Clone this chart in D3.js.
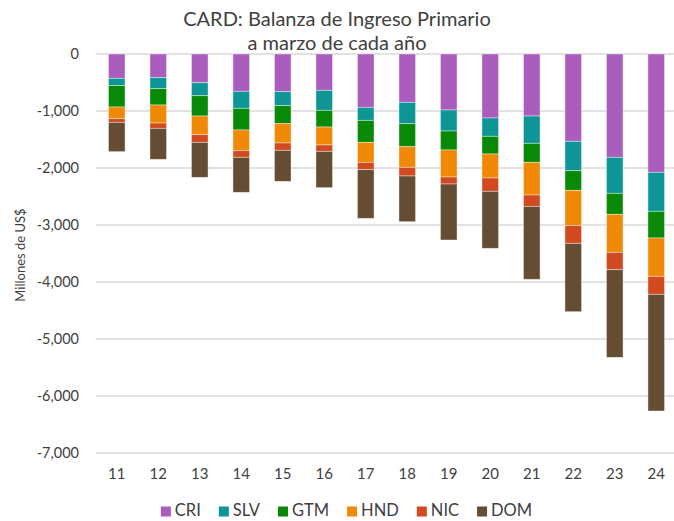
<!DOCTYPE html>
<html>
<head>
<meta charset="utf-8">
<script src="https://cdn.jsdelivr.net/npm/d3@7"></script>
<style>
  body { margin: 0; background: #fff; }
  text { font-family: Lato, "Open Sans", sans-serif; fill: #404040; }
</style>
</head>
<body>
<svg id="chart" width="674" height="521"></svg>
<script>
// anios (marzo de cada anio)
var years = ["11","12","13","14","15","16","17","18","19","20","21","22","23","24"];
var countries = ["CRI","SLV","GTM","HND","NIC","DOM"];
// valores en millones de US$ (negativos)
var CRI = [-427,-415,-503,-655,-661,-637,-936,-848,-982,-1123,-1088,-1532,-1813,-2076];
var SLV = [-128,-193,-228,-298,-245,-351,-228,-374,-369,-321,-479,-515,-631,-684];
var GTM = [-375,-287,-357,-380,-316,-293,-386,-404,-333,-310,-334,-345,-369,-468];
var HND = [-205,-316,-327,-363,-339,-315,-351,-362,-474,-421,-573,-617,-667,-673];
var NIC = [-64,-93,-135,-117,-129,-112,-128,-152,-123,-234,-199,-313,-304,-315];
var DOM = [-514,-544,-614,-614,-544,-637,-854,-802,-982,-1000,-1280,-1199,-1538,-2047];
var yTicks = [0,-1000,-2000,-3000,-4000,-5000,-6000,-7000];
var colors = ["#ab5dbe","#0e9696","#088a08","#f08a06","#d24b20","#654d34"];

var seriesVals = {CRI: CRI, SLV: SLV, GTM: GTM, HND: HND, NIC: NIC, DOM: DOM};
var table = years.map(function(yr, i){
  var row = {year: yr};
  countries.forEach(function(c){ row[c] = seriesVals[c][i]; });
  return row;
});

var svg = d3.select("#chart");
var plotLeft = 96, plotRight = 677, plotTop = 54, plotBottom = 453;

var x = d3.scaleBand().domain(years).range([plotLeft, plotRight]).paddingInner(0.6).paddingOuter(0.3);
var y = d3.scaleLinear().domain([0, -7000]).range([plotTop, plotBottom]);
var color = d3.scaleOrdinal().domain(countries).range(colors);

// titulo
svg.append("text").attr("x", 337).attr("y", 26).attr("text-anchor", "middle")
  .attr("font-size", 20).text("CARD: Balanza de Ingreso Primario");
svg.append("text").attr("x", 337).attr("y", 50).attr("text-anchor", "middle")
  .attr("font-size", 20).text("a marzo de cada año");

// rejilla
svg.append("g").selectAll("line").data(yTicks).enter().append("line")
  .attr("x1", plotLeft).attr("x2", 674)
  .attr("y1", function(d){ return y(d); }).attr("y2", function(d){ return y(d); })
  .attr("stroke", "#d9d9d9").attr("stroke-width", 1.3);

// eje y
var fmt = d3.format(",");
var yAxis = svg.append("g").attr("transform", "translate(" + (plotLeft - 14) + ",0)")
  .call(d3.axisLeft(y).tickValues(yTicks).tickSize(0)
    .tickFormat(function(d){ return fmt(d).replace("\u2212", "-"); }));
yAxis.select(".domain").remove();
yAxis.selectAll("text").attr("font-size", 14.5).attr("fill", "#404040")
  .style("font-family", "Lato, 'Open Sans', sans-serif");

svg.append("text").attr("transform", "translate(25,255) rotate(-90)")
  .attr("text-anchor", "middle").attr("font-size", 13).text("Millones de US$");

// barras apiladas
var stack = d3.stack().keys(countries).offset(d3.stackOffsetDiverging);
var layers = stack(table);
svg.append("g").selectAll("g").data(layers).enter().append("g")
  .attr("fill", function(d){ return color(d.key); })
  .selectAll("rect").data(function(d){ return d; }).enter().append("rect")
  .attr("x", function(d){ return x(d.data.year); })
  .attr("width", x.bandwidth())
  .attr("y", function(d){ return y(d[1]); })
  .attr("height", function(d){ return y(d[0]) - y(d[1]); })
  .attr("stroke", "#ffffff").attr("stroke-opacity", 0.5).attr("stroke-width", 0.8);

// eje x
var xAxis = svg.append("g").attr("transform", "translate(0," + (plotBottom + 12) + ")")
  .call(d3.axisBottom(x).tickSize(0));
xAxis.select(".domain").remove();
xAxis.selectAll("text").attr("font-size", 15).attr("fill", "#404040")
  .style("font-family", "Lato, 'Open Sans', sans-serif");

// leyenda
var legend = svg.append("g");
var lx = 0, gap = 18;
countries.forEach(function(c){
  var g = legend.append("g").attr("transform", "translate(" + lx + ",0)");
  g.append("rect").attr("x", 0).attr("y", -9.5).attr("width", 10).attr("height", 10)
    .attr("fill", color(c));
  var t = g.append("text").attr("x", 14).attr("y", 0).attr("font-size", 16.5).text(c);
  lx += 14 + t.node().getComputedTextLength() + gap;
});
var lw = lx - gap;
legend.attr("transform", "translate(" + (346.5 - lw / 2) + ",516)");
</script>
</body>
</html>
